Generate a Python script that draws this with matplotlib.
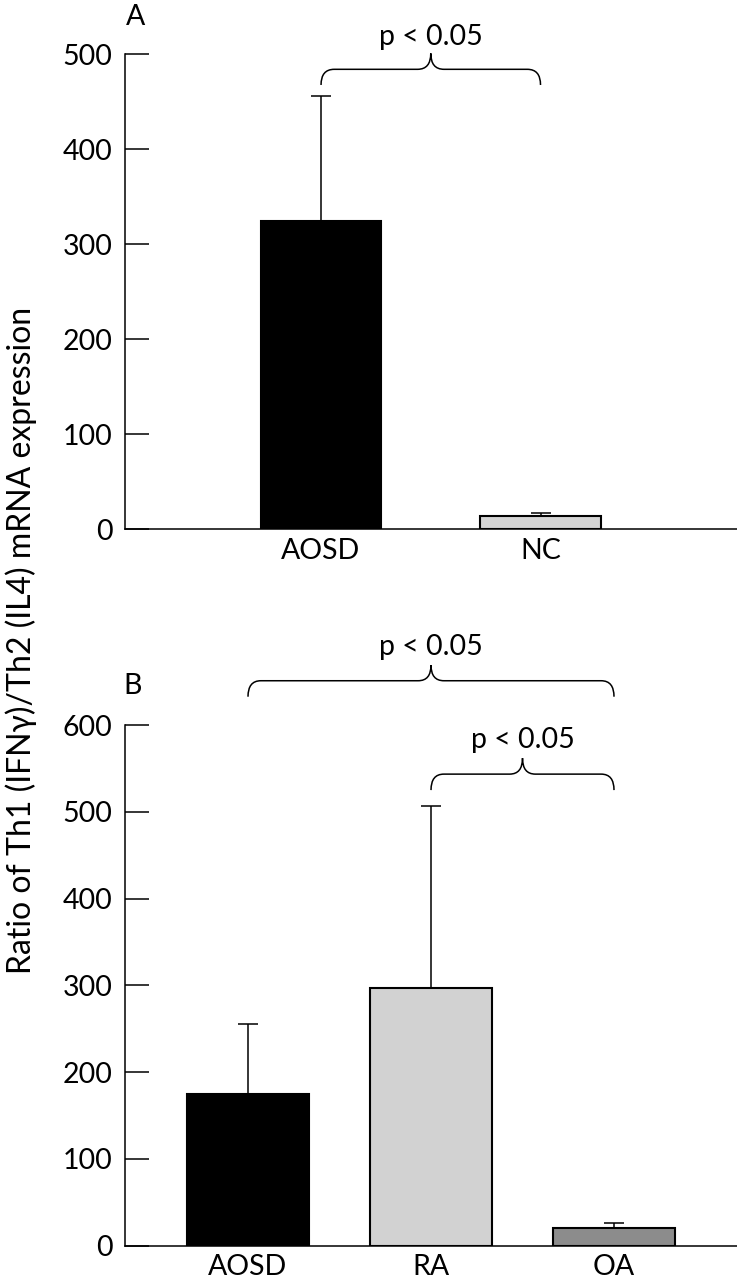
import matplotlib
matplotlib.use("Agg")
import matplotlib.pyplot as plt
from matplotlib.path import Path
from matplotlib.patches import PathPatch

plt.rcParams['font.family'] = ['Lato', 'DejaVu Sans']

# ---- data ----
cats_a = ["AOSD", "NC"]
vals_a = [325, 14]
errs_a = [131, 3]
colors_a = ["#000000", "#d4d4d4"]

cats_b = ["AOSD", "RA", "OA"]
vals_b = [175, 297, 20]
errs_b = [80, 210, 6]
colors_b = ["#000000", "#d2d2d2", "#8c8c8c"]

yticks_a = [0, 100, 200, 300, 400, 500]
yticks_b = [0, 100, 200, 300, 400, 500, 600]
ylabel = "Ratio of Th1 (IFN\u03b3)/Th2 (IL4) mRNA expression"
ptext = "p < 0.05"

W, H = 737, 1280
fig = plt.figure(figsize=(W / 100, H / 100), dpi=100)

FS = 20.5
LW = 1.1


def style(ax):
    for s in ["top", "right"]:
        ax.spines[s].set_visible(False)
    for s in ["left", "bottom"]:
        ax.spines[s].set_linewidth(LW)
    ax.tick_params(axis="y", direction="in", length=17, width=LW, pad=9, labelsize=FS)
    ax.tick_params(axis="x", length=0, pad=6, labelsize=FS)


def brace(ax, x0, x1, y_end, y_h, y_peak, r):
    xm = (x0 + x1) / 2
    verts = [(x0, y_end), (x0, y_h), (x0 + r, y_h),
             (xm - r, y_h), (xm, y_h), (xm, y_peak),
             (xm, y_h), (xm + r, y_h),
             (x1 - r, y_h), (x1, y_h), (x1, y_end)]
    codes = [Path.MOVETO, Path.CURVE3, Path.CURVE3,
             Path.LINETO, Path.CURVE3, Path.CURVE3,
             Path.CURVE3, Path.CURVE3,
             Path.LINETO, Path.CURVE3, Path.CURVE3]
    ax.add_patch(PathPatch(Path(verts, codes), fill=False, lw=LW,
                           edgecolor="black", clip_on=False))


# ---- Panel A ----
axA = fig.add_axes([125 / W, 1 - 529.3 / H, (W - 125) / W, (529.3 - 54.3) / H])
axA.bar(cats_a, vals_a, width=0.551, color=colors_a, edgecolor="black", linewidth=1.5,
        yerr=[[0] * len(errs_a), errs_a],
        error_kw=dict(capsize=7.5, elinewidth=LW, capthick=LW, ecolor="black"))
axA.set_xlim(-0.893, 1.895)
axA.set_ylim(0, 500)
axA.set_yticks(yticks_a)
style(axA)
brace(axA, 0, 1, 467.7, 484.2, 501, 0.06)
axA.text(0.5, 510, ptext, ha="center", va="baseline", fontsize=FS, clip_on=False)
fig.text(136 / W, 1 - 17 / H, "A", ha="center", va="center", fontsize=FS)

# ---- Panel B ----
axB = fig.add_axes([125 / W, 1 - 1245.7 / H, (W - 125) / W, (1245.7 - 725) / H])
axB.bar(cats_b, vals_b, width=0.667, color=colors_b, edgecolor="black", linewidth=1.5,
        yerr=[[0] * len(errs_b), errs_b],
        error_kw=dict(capsize=7.5, elinewidth=LW, capthick=LW, ecolor="black"))
axB.set_xlim(-0.672, 2.672)
axB.set_ylim(0, 600)
axB.set_yticks(yticks_b)
style(axB)
brace(axB, 0, 2, 632.6, 651, 669, 0.07)
axB.text(1, 680.7, ptext, ha="center", va="baseline", fontsize=FS, clip_on=False)
brace(axB, 1, 2, 525, 543.4, 561.8, 0.07)
axB.text(1.5, 573, ptext, ha="center", va="baseline", fontsize=FS, clip_on=False)
fig.text(133 / W, 1 - 686 / H, "B", ha="center", va="center", fontsize=FS)

fig.text(21 / W, 1 - 640 / H, ylabel, rotation=90, ha="center", va="center", fontsize=23)

fig.savefig("out.png", dpi=100)
